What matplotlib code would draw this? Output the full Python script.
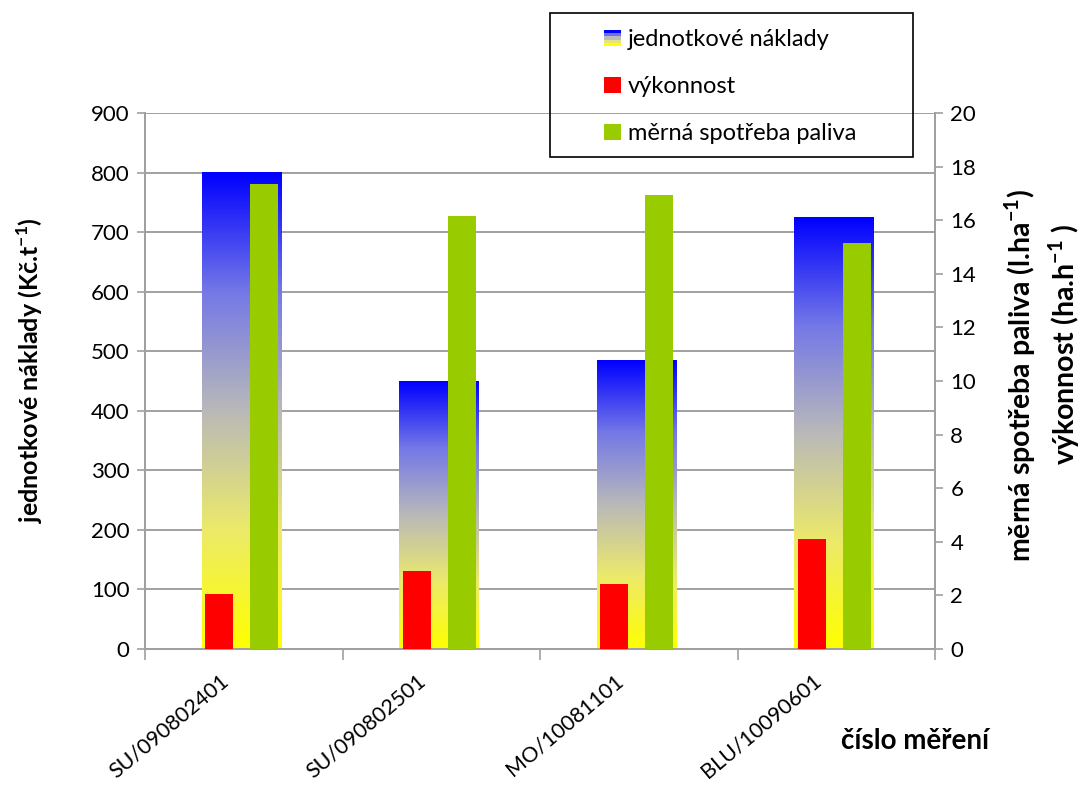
import numpy as np
import matplotlib
matplotlib.use("Agg")
import matplotlib.pyplot as plt
from matplotlib.colors import LinearSegmentedColormap
from matplotlib.patches import Rectangle
from matplotlib.legend_handler import HandlerBase
from matplotlib.transforms import ScaledTranslation

plt.rcParams['font.family'] = ['Lato', 'DejaVu Sans']
plt.rcParams['mathtext.fontset'] = 'custom'
plt.rcParams['mathtext.rm'] = 'Lato'
plt.rcParams['mathtext.bf'] = 'Lato:bold'

# data
mereni = ['SU/090802401', 'SU/090802501', 'MO/10081101', 'BLU/10090601']
naklady = [800, 450, 484, 724]          # Kč.t-1 (left axis)
vykonnost = [2.05, 2.9, 2.43, 4.1]      # ha.h-1 (right axis)
spotreba = [17.35, 16.15, 16.95, 15.15]  # l.ha-1 (right axis)

grad = LinearSegmentedColormap.from_list(
    'gr', [(0.0, '#ffff00'), (0.25, '#ecea6a'), (0.5, '#b9b9b9'), (0.75, '#7478e6'), (1.0, '#0000ff')])

fig = plt.figure(figsize=(10.83, 7.93), dpi=100)
ax = fig.add_axes([145/1083, 1-649/793, 790/1083, 536/793])
ax2 = ax.twinx()

x = np.arange(len(mereni))

# gradient bars (náklady)
bars = ax.bar(x - 0.01, naklady, width=0.405, color='none', edgecolor='none', zorder=2)
g = np.linspace(0, 1, 256).reshape(-1, 1)
for b in bars:
    x0, w, h = b.get_x(), b.get_width(), b.get_height()
    ax.imshow(g, extent=[x0, x0 + w, 0, h], origin='lower', aspect='auto', cmap=grad, zorder=2)

ax2.bar(x - 0.123, vykonnost, width=0.142, color='#ff0000', zorder=3)
ax2.bar(x + 0.103, spotreba, width=0.142, color='#99cc00', zorder=3)

ax.set_xlim(-0.5, 3.5)
ax.set_ylim(0, 900)
ax2.set_ylim(0, 20)
ax.set_yticks(np.arange(0, 901, 100))
ax2.set_yticks(np.arange(0, 21, 2))
ax.yaxis.grid(True, color='#999999', lw=1.3)
ax.set_axisbelow(True)

for a in (ax, ax2):
    for s in a.spines.values():
        s.set_color('#a0a0a0')
        s.set_linewidth(1.3)
    a.spines['top'].set_visible(False)
    a.tick_params(axis='y', colors='#a0a0a0', length=6, width=1.2, labelsize=16, labelcolor='black', pad=5)

ax.set_xticks(x)
ax.set_xticks(np.arange(-0.5, 3.6, 1), minor=True)
ax.tick_params(axis='x', which='major', length=0, pad=14, labelsize=15.5)
ax.tick_params(axis='x', which='minor', length=8, width=1.2, color='#a0a0a0')
ax.set_xticklabels(mereni, rotation=40, ha='right', va='center', rotation_mode='anchor')
for lab in ax.get_xticklabels():
    lab.set_transform(lab.get_transform() + ScaledTranslation(-13/72, -7/72, fig.dpi_scale_trans))

fig.text(30/1083, 1-370/793, r'jednotkové náklady (Kč.t$^{\mathbf{-1}}$)', rotation=90,
         ha='center', va='center', fontsize=18, fontweight='bold')
fig.text(1020/1083, 1-376/793, r'měrná spotřeba paliva (l.ha$^{\mathbf{-1}}$)', rotation=90,
         ha='center', va='center', fontsize=20.5, fontweight='bold')
fig.text(1064/1083, 1-344/793, r'výkonnost (ha.h$^{\mathbf{-1}}$ )', rotation=90,
         ha='center', va='center', fontsize=20.5, fontweight='bold')
fig.text(915/1083, 1-741/793, 'číslo měření', ha='center', va='center', fontsize=20, fontweight='bold')


class GradHandler(HandlerBase):
    def create_artists(self, legend, orig, xd, yd, width, height, fontsize, trans):
        cols = ['#ffff00', '#e5e37a', '#b9b9c0', '#6c70ee', '#0000ff']
        n = len(cols)
        return [Rectangle((xd, yd + i * height / n), width, height / n, facecolor=c,
                          edgecolor='none', transform=trans) for i, c in enumerate(cols)]


h1 = Rectangle((0, 0), 1, 1)
h2 = Rectangle((0, 0), 1, 1, facecolor='#ff0000')
h3 = Rectangle((0, 0), 1, 1, facecolor='#99cc00')
fig.legend([h1, h2, h3], ['jednotkové náklady', 'výkonnost', 'měrná spotřeba paliva'],
           handler_map={h1: GradHandler()}, loc='upper left',
           bbox_to_anchor=(583/1083, 1-8/793), frameon=False, fontsize=17,
           labelspacing=1.1, handlelength=0.7, handleheight=0.7, handletextpad=0.3)
fig.patches.append(Rectangle((550/1083, 1-157/793), 363/1083, 144/793, transform=fig.transFigure,
                             fill=False, edgecolor='black', lw=1.2))

fig.savefig('out.png', dpi=100)
